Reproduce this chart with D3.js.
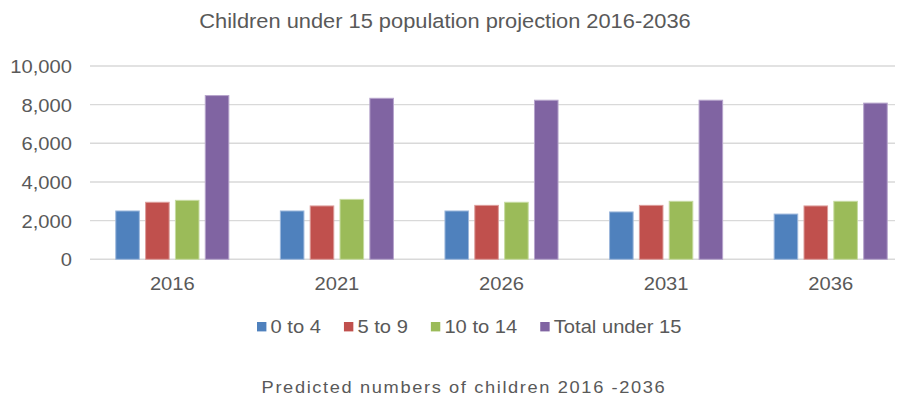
<!DOCTYPE html>
<html>
<head>
<meta charset="utf-8">
<script src="https://cdn.jsdelivr.net/npm/d3@7"></script>
<style>
  html, body { margin: 0; padding: 0; background: #fff; }
  svg { display: block; font-family: "Liberation Sans", Arial, sans-serif; }
</style>
</head>
<body>
<svg id="chart" width="899" height="399"></svg>
<script>
// ---- data ----
const years = ["2016", "2021", "2026", "2031", "2036"];
const seriesNames = ["0 to 4", "5 to 9", "10 to 14", "Total under 15"];
const age0to4   = [2500, 2500, 2500, 2450, 2340];
const age5to9   = [2950, 2760, 2790, 2790, 2760];
const age10to14 = [3050, 3100, 2950, 3000, 3000];
const totalUnder15 = [8470, 8330, 8230, 8230, 8080];
const yTicks = [0, 2000, 4000, 6000, 8000, 10000];
const titleText = "Children under 15 population projection 2016-2036";
const footerText = "Predicted numbers of children 2016 -2036";

const seriesValues = [age0to4, age5to9, age10to14, totalUnder15];
const colors = ["#4F81BD", "#C0504D", "#9BBB59", "#8064A2"];
const strokes = ["#9db8dc", "#dc9c9a", "#c6dba0", "#b6a4cc"];
const textColor = "#595959";
const SX = 1.12; // horizontal text stretch seen in the reference

const svg = d3.select("#chart");

const x0 = d3.scaleBand().domain(years).range([90, 913])
  .paddingInner(0.313).paddingOuter(0.1565);
const x1 = d3.scaleBand().domain(seriesNames).range([0, x0.bandwidth()])
  .paddingInner(0.21).paddingOuter(0);
const y = d3.scaleLinear().domain([0, 10000]).range([259.3, 66]);

// gridlines
svg.append("g").selectAll("line").data(yTicks).join("line")
  .attr("x1", 90).attr("x2", 895)
  .attr("y1", d => y(d)).attr("y2", d => y(d))
  .attr("stroke", "#d9d9d9").attr("stroke-width", 1.4);

// y axis labels
const yAxis = svg.append("g").attr("transform", "translate(90,0)")
  .call(d3.axisLeft(y).tickValues(yTicks).tickFormat(d3.format(",")).tickSize(0));
yAxis.select(".domain").remove();
yAxis.selectAll("text")
  .attr("x", 0).attr("dy", "0.36em")
  .attr("transform", `translate(-18,0) scale(${SX},1)`)
  .attr("fill", textColor).style("font-size", "18px")
  .style("font-family", "'Liberation Sans', Arial, sans-serif");

// x axis labels
const xAxis = svg.append("g").attr("transform", "translate(0,259.3)")
  .call(d3.axisBottom(x0).tickSize(0));
xAxis.select(".domain").remove();
xAxis.selectAll("text")
  .attr("y", 0).attr("dy", 0)
  .attr("transform", `translate(0,30.5) scale(${SX},1)`)
  .attr("fill", textColor).style("font-size", "18px")
  .style("font-family", "'Liberation Sans', Arial, sans-serif");

// bars
const groups = svg.append("g").selectAll("g").data(years).join("g")
  .attr("transform", d => `translate(${x0(d)},0)`);
groups.selectAll("rect")
  .data((yr, i) => seriesNames.map((s, k) => ({ s, k, v: seriesValues[k][i] })))
  .join("rect")
  .attr("x", d => x1(d.s))
  .attr("width", x1.bandwidth())
  .attr("y", d => y(d.v))
  .attr("height", d => y(0) - y(d.v))
  .attr("fill", d => colors[d.k])
  .attr("stroke", d => strokes[d.k])
  .attr("stroke-width", 1);

// title
svg.append("g").attr("transform", "translate(445,28)")
  .append("text").attr("transform", `scale(${SX},1)`)
  .attr("text-anchor", "middle").attr("fill", textColor)
  .style("font-size", "19.5px").text(titleText);

// legend
const legend = svg.append("g").attr("transform", "translate(257,333)");
let lx = 0;
seriesNames.forEach((name, k) => {
  const item = legend.append("g").attr("transform", `translate(${lx},0)`);
  item.append("rect").attr("x", 0).attr("y", -11).attr("width", 9.4).attr("height", 9.4)
    .attr("fill", colors[k]);
  const t = item.append("text").attr("transform", `translate(13.5,0) scale(${SX},1)`)
    .attr("fill", textColor).style("font-size", "18px").text(name);
  const w = t.node().getComputedTextLength() * SX;
  lx += 13.5 + w + 23;
});

// footer
svg.append("g").attr("transform", "translate(464,393)")
  .append("text").attr("transform", `scale(${SX},1)`)
  .attr("text-anchor", "middle").attr("fill", textColor)
  .style("font-size", "16.3px").style("letter-spacing", "1.45px")
  .text(footerText);
</script>
</body>
</html>
